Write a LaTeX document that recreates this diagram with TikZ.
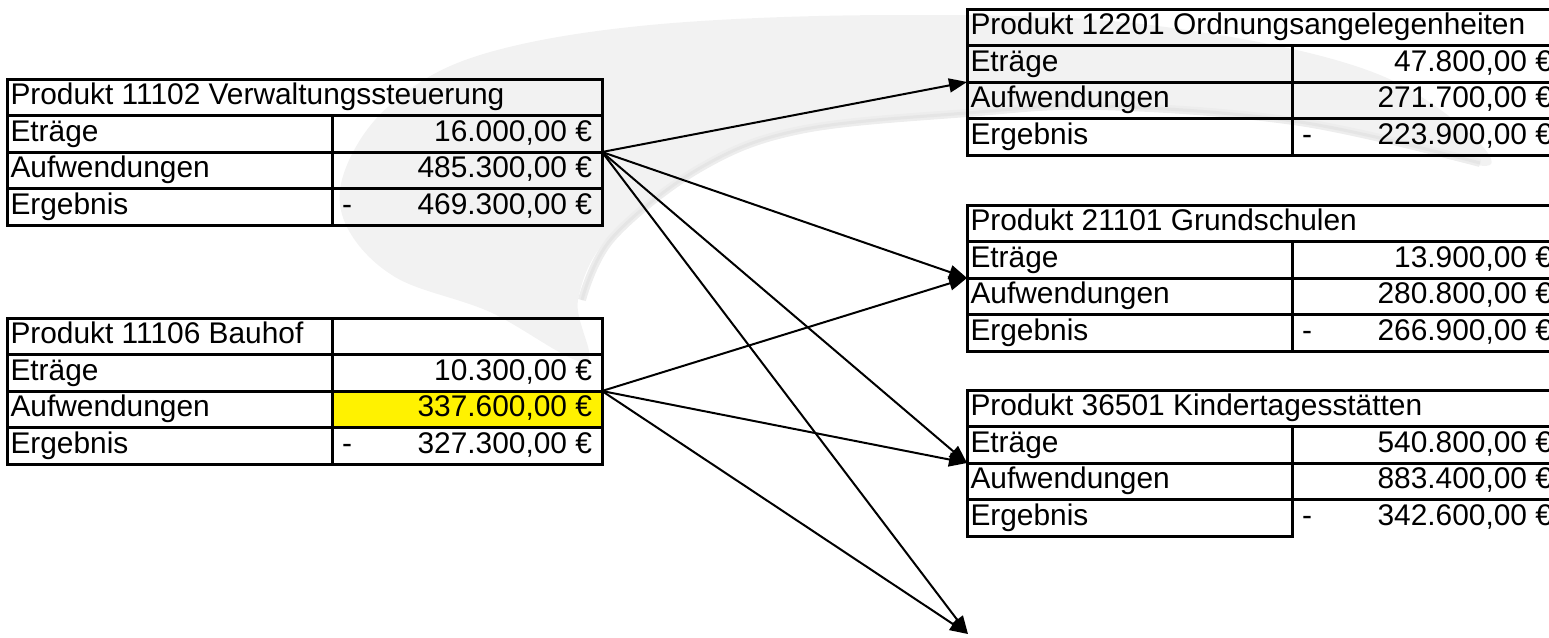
\documentclass[tikz,border=0pt]{standalone}
\usepackage{fontspec}
\setmainfont{Liberation Sans}
\usetikzlibrary{positioning,arrows.meta}
\tikzset{
	zelle/.style={draw, line width=0.6mm, minimum height=7.3mm, outer sep=0pt, inner ysep=0pt, text height=4.4mm, text depth=1.5mm, font=\fontsize{17}{20}\selectfont},
	kopf/.style={zelle, anchor=north west, inner xsep=0.7mm},
	bez/.style={zelle, inner xsep=0.7mm},
	wert/.style={zelle, inner xsep=2mm, minimum width=54mm},
	pfeil/.style={-{Triangle[length=3.6mm,width=2.8mm]}, line width=0.4mm},
	every bauhof aw/.style={fill=yellow},
	every kita eg/.style={draw=none},
}
\newcommand{\titel}[1]{\makebox[117.6mm][l]{#1}}
\newcommand{\posten}[1]{\makebox[63.6mm][l]{#1}}
\newcommand{\betrag}[1]{\makebox[50mm][r]{#1}}
\newcommand{\minusbetrag}[1]{\makebox[50mm]{-\hfill #1}}
\newcommand{\produkttab}[6]{%
	\node[kopf] (#1-kopf) at (#2) {\titel{#3}};
	\node[bez, below=0pt of #1-kopf.south west, anchor=north west] (#1-et) {\posten{Eträge}};
	\node[wert, right=0pt of #1-et, every #1 et/.try] (#1-et-w) {\betrag{#4}};
	\node[bez, below=0pt of #1-et.south west, anchor=north west] (#1-aw) {\posten{Aufwendungen}};
	\node[wert, right=0pt of #1-aw, every #1 aw/.try] (#1-aw-w) {\betrag{#5}};
	\node[bez, below=0pt of #1-aw.south west, anchor=north west] (#1-eg) {\posten{Ergebnis}};
	\node[wert, right=0pt of #1-eg, every #1 eg/.try] (#1-eg-w) {\minusbetrag{#6}};
}

\begin{document}
\begin{tikzpicture}[x=0.2mm, y=-0.2mm]
	\useasboundingbox (0,0) rectangle (1549,637);

	\fill[black!5] plot[smooth cycle, tension=0.6] coordinates {(585,362) (490,312) (395,277) (346,225) (345,170) (390,105) (480,55) (650,25) (900,15) (1150,25) (1380,75) (1490,165) (1300,120) (1100,103) (967,110) (800,127) (700,165) (610,235) (578,300)};
	\draw[black!7, line width=1.6mm] plot[smooth, tension=0.6] coordinates {(1480,163) (1300,122) (1100,106) (967,113) (800,130) (700,168) (612,238) (582,300)};
	\draw[black!10, line width=0.6mm] plot[smooth, tension=0.6] coordinates {(1480,163) (1300,122) (1100,106) (967,113) (800,130) (700,168) (612,238) (582,300)};

	\produkttab{verw}{7,79}{Produkt 11102 Verwaltungssteuerung}{16.000,00 €}{485.300,00 €}{469.300,00 €}
	\produkttab{bauhof}{7,318}{Produkt 11106 Bauhof}{10.300,00 €}{337.600,00 €}{327.300,00 €}
	\node[wert, anchor=south west] (bauhof-leer) at (bauhof-et-w.north west) {};
	\produkttab{ordnung}{967,9}{Produkt 12201 Ordnungsangelegenheiten}{47.800,00 €}{271.700,00 €}{223.900,00 €}
	\produkttab{grund}{967,205}{Produkt 21101 Grundschulen}{13.900,00 €}{280.800,00 €}{266.900,00 €}
	\produkttab{kita}{967,390}{Produkt 36501 Kindertagesstätten}{540.800,00 €}{883.400,00 €}{342.600,00 €}
	\draw[line width=0.6mm] (kita-eg.south west) -- (kita-eg.south east);

	\coordinate (unten) at (968,634);

	\draw[pfeil] (verw-aw-w.north east) -- (ordnung-aw.north west);
	\draw[pfeil] (verw-aw-w.north east) -- (grund-aw.north west);
	\draw[pfeil] (verw-aw-w.north east) -- (kita-aw.north west);
	\draw[pfeil] (verw-aw-w.north east) -- (unten);
	\draw[pfeil] (bauhof-aw-w.north east) -- (grund-aw.north west);
	\draw[pfeil] (bauhof-aw-w.north east) -- (kita-aw.north west);
	\draw[pfeil] (bauhof-aw-w.north east) -- (unten);
\end{tikzpicture}
\end{document}
